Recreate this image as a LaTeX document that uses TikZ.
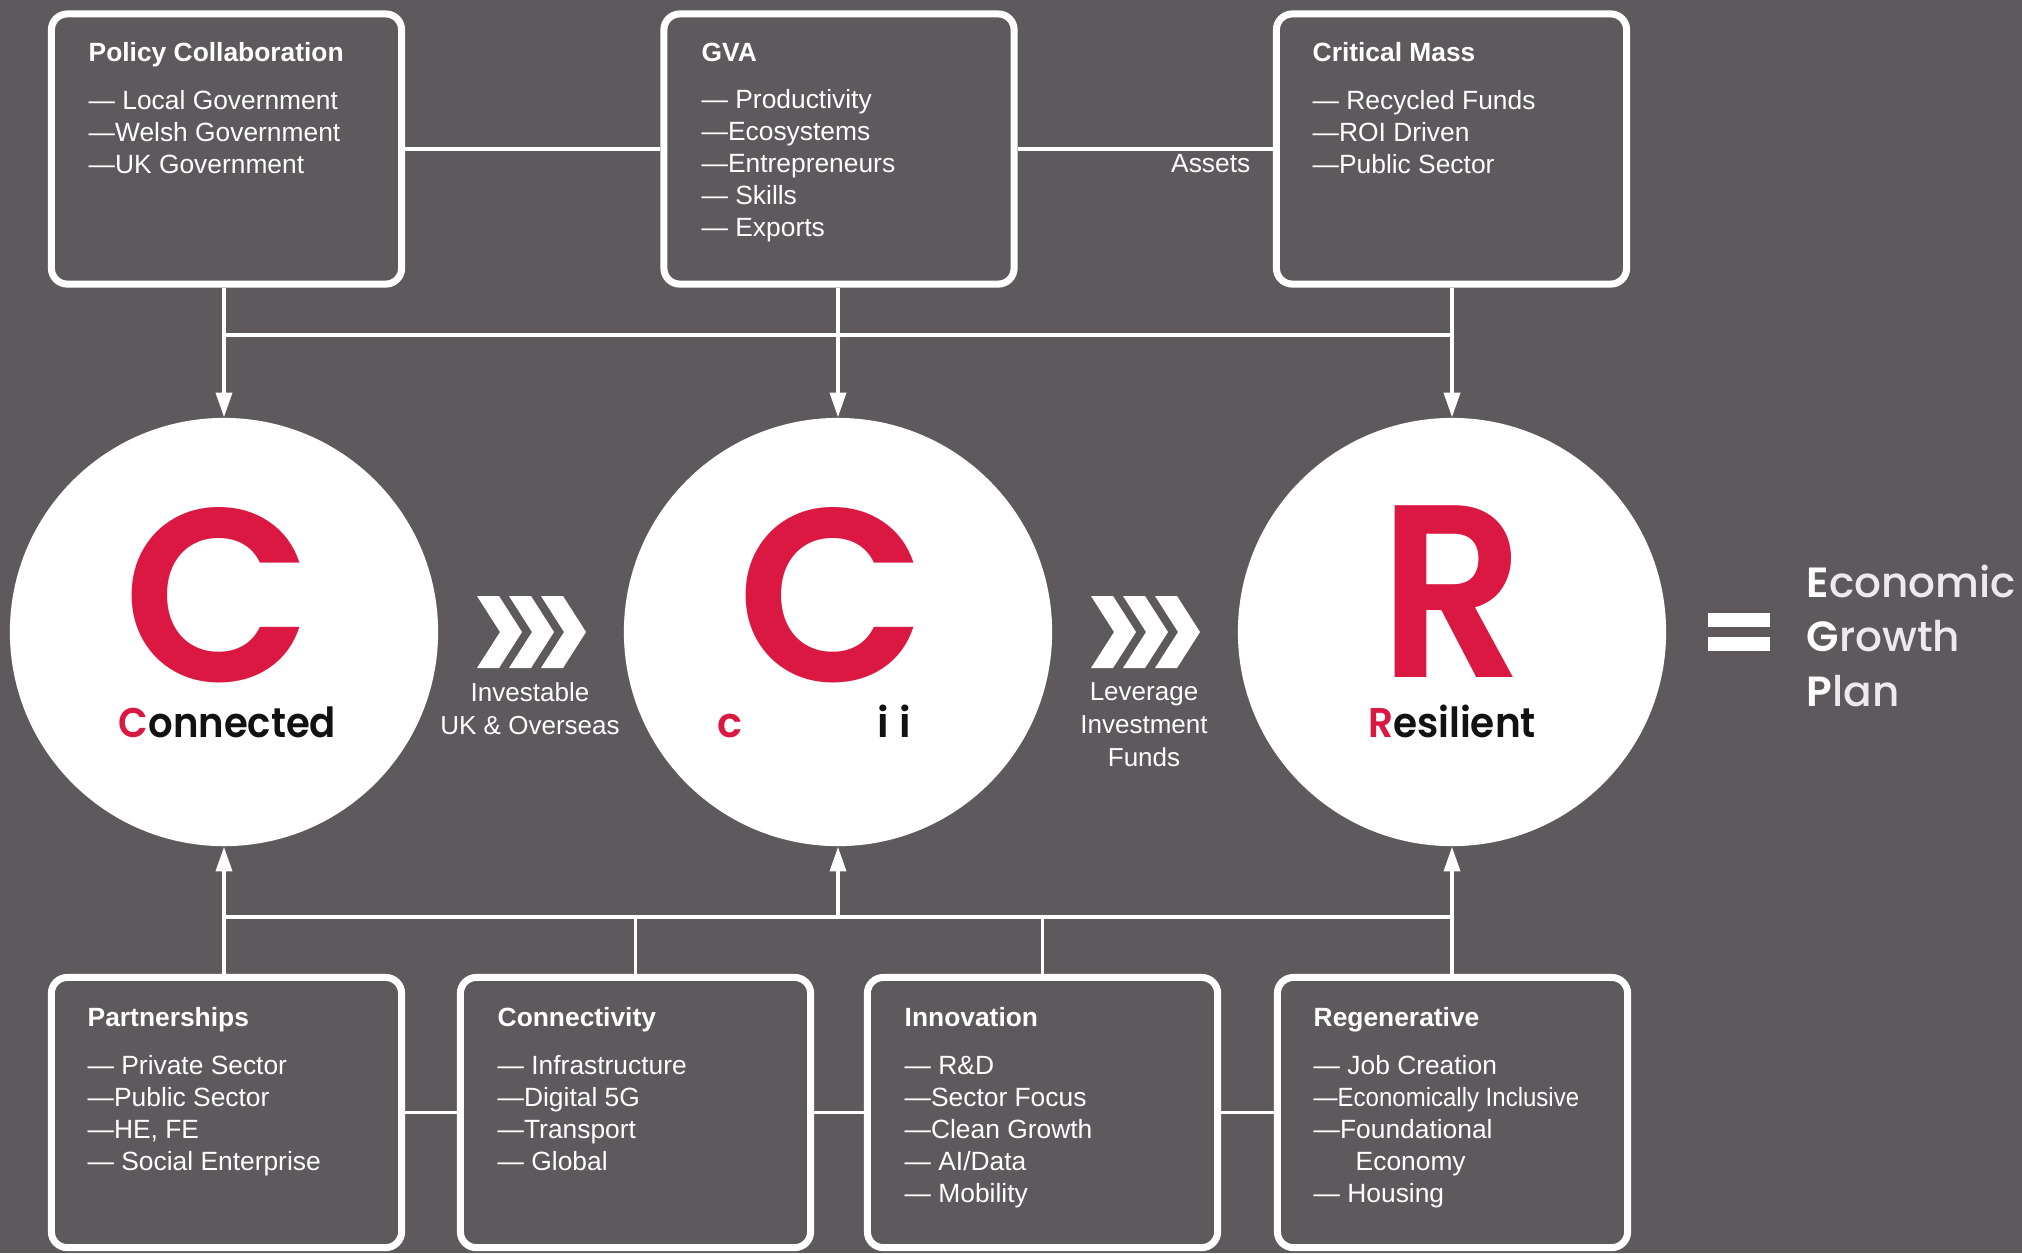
\documentclass[tikz,border=0pt]{standalone}
\usepackage{fontspec}
\usepackage{graphicx}
\usetikzlibrary{arrows.meta}
\newfontfamily\arialf{Liberation Sans}
\newfontfamily\popf{Poppins}
\newfontfamily\popsb{Poppins SemiBold}
\newfontfamily\popm{Poppins Medium}
\definecolor{bg}{RGB}{94,89,93}
\definecolor{crim}{RGB}{218,24,66}
\definecolor{ink}{RGB}{18,18,18}
\definecolor{soft}{RGB}{236,234,236}
\begin{document}
\begin{tikzpicture}[x=0.01cm,y=-0.01cm,
 box/.style={draw=white, line width=2pt, rounded corners=4.5pt, minimum width=3.5cm, minimum height=2.7cm, inner sep=0pt},
 boxtext/.style={font=\arialf\fontsize{7.5}{9.1}\selectfont, text=white, align=left, inner sep=0pt, anchor=north west},
 conn/.style={draw=white, line width=0.9pt},
 arr/.style={conn, -{Triangle[length=7pt,width=4.6pt]}},
 disc/.style={circle, fill=white, minimum size=4.28cm, inner sep=0pt},
 bigletter/.style={font=\popsb\fontsize{70}{70}\selectfont, text=crim, inner sep=0pt, anchor=base},
 word/.style={font=\popsb\fontsize{11.8}{12}\selectfont, text=ink, inner sep=0pt},
 midlabel/.style={font=\arialf\fontsize{7.4}{9.3}\selectfont, text=white, align=center, inner sep=0pt, anchor=north},
 chevshape/.style={fill=white}]

% background
\fill[bg] (0,0) rectangle (2022,1253);
\useasboundingbox (0,0) rectangle (2022,1253);

% top boxes
\node[box] (pol) at (226.5,149) {};
\node[box] (gva) at (839,149) {};
\node[box] (cm) at (1451.5,149) {};
\node[boxtext] (polt) at (88,42) {{\bfseries Policy Collaboration}\\[4.5pt]
— Local Government\\—Welsh Government\\—UK Government};
\node[boxtext] (gvat) at (701,42) {{\bfseries GVA}\\[4.5pt]
— Productivity\\—Ecosystems\\—Entrepreneurs\\— Skills\\— Exports};
\node[boxtext] (cmt) at (1312,42) {{\bfseries Critical Mass}\\[4.5pt]
— Recycled Funds\\—ROI Driven\\—Public Sector};

% bottom boxes
\node[box] (part) at (226.5,1112.5) {};
\node[box] (cnt) at (635.5,1112.5) {};
\node[box] (inn) at (1042.5,1112.5) {};
\node[box] (reg) at (1452.5,1112.5) {};
\node[boxtext] (partt) at (87,1007) {{\bfseries Partnerships}\\[4.5pt]
— Private Sector\\—Public Sector\\—HE, FE\\— Social Enterprise};
\node[boxtext] (cntt) at (497,1007) {{\bfseries Connectivity}\\[4.5pt]
— Infrastructure\\—Digital 5G\\—Transport\\— Global};
\node[boxtext] (innt) at (904,1007) {{\bfseries Innovation}\\[4.5pt]
— R\&D\\—Sector Focus\\—Clean Growth\\— AI/Data\\— Mobility};
\node[boxtext] (regt) at (1313,1007) {{\bfseries Regenerative}\\[4.5pt]
— Job Creation\\\scalebox{0.91}[1]{—Economically Inclusive}\\—Foundational\\\hspace*{0.42cm}Economy\\— Housing};

% circles
\node[disc] (c1) at (224,632) {};
\node[disc] (c2) at (838,632) {};
\node[disc] (c3) at (1452,632) {};
\node[bigletter] (c1L) at (218,681) {C};
\node[bigletter] (c2L) at (832,681) {C};
\node[bigletter] (c3L) at (1452,677) {\scalebox{0.92}[1]{R}};
\node[word, anchor=base] (c1w) at (227.5,737) {\scalebox{0.93}[1]{\textcolor{crim}{C}onnected}};
\node[word, anchor=base west, text=crim] (c2w) at (717,737) {c};
\node[word, anchor=base west] (c2i) at (877,737) {i i};
\node[word, anchor=base] (c3w) at (1452,737) {\scalebox{0.94}[1]{\textcolor{crim}{R}esilient}};

% top connectors
\coordinate (tbus) at (0,335);
\draw[conn] (pol.east) -- (gva.west);
\draw[conn] (gva.east) -- (cm.west);
\node[font=\arialf\fontsize{7.5}{9.1}\selectfont, text=white, inner sep=0pt, anchor=base east] (assets) at (1251,172) {Assets};
\draw[arr] (c1.north |- pol.south) -- (c1.north);
\draw[arr] (c2.north |- gva.south) -- (c2.north);
\draw[arr] (c3.north |- cm.south) -- (c3.north);
\draw[conn] (c1.north |- tbus) -- (c3.north |- tbus);

% bottom connectors
\coordinate (bbus) at (0,917);
\draw[arr] (c1.south |- part.north) -- (c1.south);
\draw[arr] (c3.south |- reg.north) -- (c3.south);
\draw[arr] (c2.south |- bbus) -- (c2.south);
\draw[conn] (cnt.north) -- (cnt.north |- bbus);
\draw[conn] (inn.north) -- (inn.north |- bbus);
\draw[conn] (c1.south |- bbus) -- (c3.south |- bbus);
\draw[conn] (part.east) -- (cnt.west);
\draw[conn] (cnt.east) -- (inn.west);
\draw[conn] (inn.east) -- (reg.west);

% chevrons
\foreach \x in {477,509,541,1091,1123,1155}{
  \fill[chevshape] (\x,596) -- (\x+22,596) -- (\x+45,632) -- (\x+22,668) -- (\x,668) -- (\x+23,632) -- cycle;
}
\node[midlabel] (inv) at (530,682) {Investable\\UK \& Overseas};
\node[midlabel] (lev) at (1144,682) {Leverage\\Investment\\Funds};

% equals and result
\fill[white] (1708,613) rectangle (1770,627);
\fill[white] (1708,637) rectangle (1770,651);
\node[font=\popm\fontsize{12}{15.5}\selectfont, text=soft, align=left, inner sep=0pt, anchor=north west] (egp) at (1806,564)
 {\textcolor{white}{\popsb E}conomic\\\textcolor{white}{\popsb G}rowth\\\textcolor{white}{\popsb P}lan};
\end{tikzpicture}
\end{document}
